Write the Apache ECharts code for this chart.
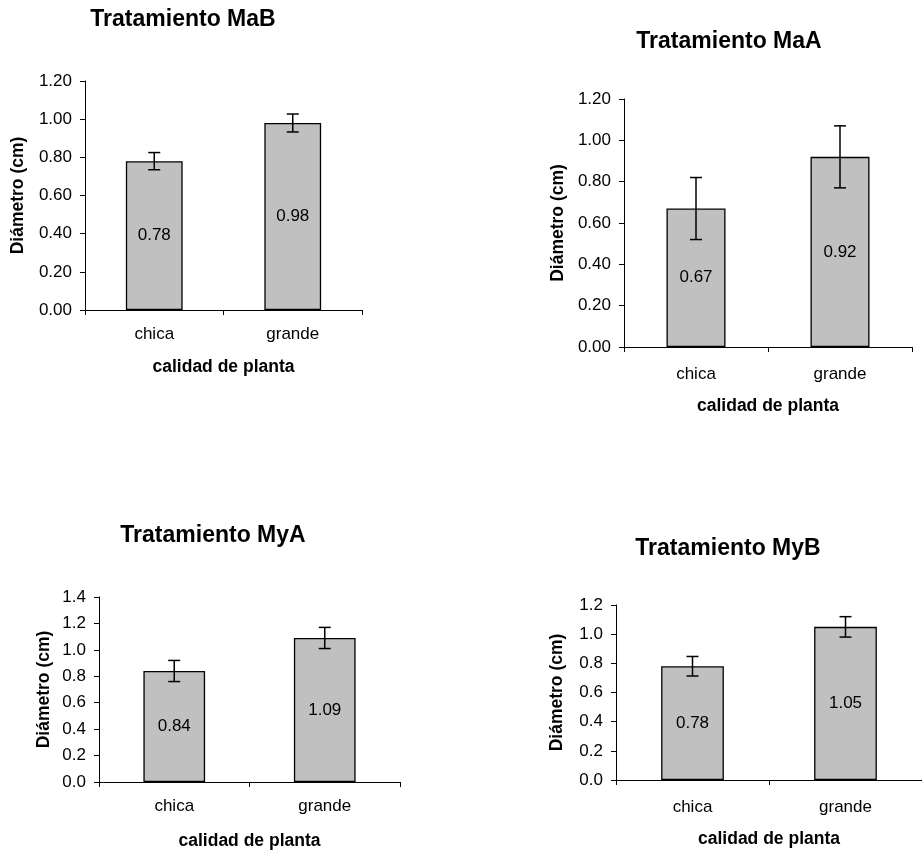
<!DOCTYPE html>
<html>
<head>
<meta charset="utf-8">
<script src="https://cdn.jsdelivr.net/npm/echarts@6/dist/echarts.min.js"></script>
<style>
html,body{margin:0;padding:0;background:#fff;}
#chart{width:922px;height:854px;}
</style>
</head>
<body>
<div id="chart"></div>
<script>
// ---- data ----
var categories = ['chica', 'grande'];
var panelTitles = ['Tratamiento MaB', 'Tratamiento MaA', 'Tratamiento MyA', 'Tratamiento MyB'];
var yAxisName = 'Diámetro (cm)';
var xAxisName = 'calidad de planta';

var maBValues = [0.78, 0.98];
var maBErrors = [0.045, 0.047];
var maAValues = [0.67, 0.92];
var maAErrors = [0.15, 0.15];
var myAValues = [0.84, 1.09];
var myAErrors = [0.08, 0.08];
var myBValues = [0.78, 1.05];
var myBErrors = [0.067, 0.07];

var yMax = [1.2, 1.2, 1.4, 1.2];
var yDecimals = [2, 2, 1, 1];

// ---- layout / styles ----
var FONT = '"Liberation Sans", Arial, sans-serif';
var panels = [
  {values: maBValues, errors: maBErrors, grid: {left: 85, top: 81, width: 277, height: 229}, titleX: 183, titleY: 8, yGap: 58, xGap: 48, labelMargin: 16},
  {values: maAValues, errors: maAErrors, grid: {left: 624, top: 99, width: 288, height: 248}, titleX: 729, titleY: 30, yGap: 57, xGap: 50, labelMargin: 19},
  {values: myAValues, errors: myAErrors, grid: {left: 99, top: 597, width: 301, height: 185}, titleX: 213, titleY: 524, yGap: 46, xGap: 50, labelMargin: 16},
  {values: myBValues, errors: myBErrors, grid: {left: 616, top: 605, width: 312, height: 175}, titleX: 728, titleY: 537, yGap: 50, xGap: 50, labelMargin: 19}
];

var option = {
  animation: false,
  backgroundColor: '#ffffff',
  title: [], grid: [], xAxis: [], yAxis: [], series: []
};

function errorRender(params, api) {
  var x = api.value(0), v = api.value(1), e = api.value(2);
  var top = api.coord([x, v + e]);
  var bot = api.coord([x, v - e]);
  var hw = 6;
  var style = {stroke: '#000', lineWidth: 1.5};
  return {
    type: 'group',
    children: [
      {type: 'line', shape: {x1: top[0], y1: top[1], x2: bot[0], y2: bot[1]}, style: style},
      {type: 'line', shape: {x1: top[0] - hw, y1: top[1], x2: top[0] + hw, y2: top[1]}, style: style},
      {type: 'line', shape: {x1: bot[0] - hw, y1: bot[1], x2: bot[0] + hw, y2: bot[1]}, style: style}
    ]
  };
}

panels.forEach(function (p, i) {
  option.title.push({
    text: panelTitles[i],
    left: p.titleX, top: p.titleY, textAlign: 'center', padding: 0,
    textStyle: {fontFamily: FONT, fontSize: 23, fontWeight: 'bold', color: '#000'}
  });
  option.grid.push(Object.assign({containLabel: false}, p.grid));
  option.xAxis.push({
    type: 'category', gridIndex: i, data: categories,
    name: xAxisName, nameLocation: 'middle', nameGap: p.xGap,
    nameTextStyle: {fontFamily: FONT, fontSize: 17.5, fontWeight: 'bold', color: '#000', verticalAlign: 'top'},
    axisLine: {lineStyle: {color: '#000', width: 1}},
    axisTick: {show: true, length: 5, alignWithLabel: false, lineStyle: {color: '#000'}},
    axisLabel: {fontFamily: FONT, fontSize: 17, color: '#000', margin: p.labelMargin},
    splitLine: {show: false}
  });
  var dec = yDecimals[i];
  option.yAxis.push({
    type: 'value', gridIndex: i, min: 0, max: yMax[i], interval: 0.2,
    name: yAxisName, nameLocation: 'middle', nameGap: p.yGap,
    nameTextStyle: {fontFamily: FONT, fontSize: 17.5, fontWeight: 'bold', color: '#000'},
    axisLine: {show: true, lineStyle: {color: '#000', width: 1}},
    axisTick: {show: true, length: 5, lineStyle: {color: '#000'}},
    axisLabel: {fontFamily: FONT, fontSize: 17, color: '#000', margin: 13,
      formatter: function (v) { return v.toFixed(dec); }},
    splitLine: {show: false}
  });
  option.series.push({
    type: 'bar', xAxisIndex: i, yAxisIndex: i, data: p.values, barWidth: '41%',
    itemStyle: {color: '#c0c0c0', borderColor: '#000', borderWidth: 1.3},
    label: {show: true, position: 'inside', fontFamily: FONT, fontSize: 17, color: '#000',
      formatter: function (d) { return d.value.toFixed(2); }}
  });
  option.series.push({
    type: 'custom', xAxisIndex: i, yAxisIndex: i, z: 5,
    renderItem: errorRender,
    encode: {x: 0, y: 1},
    data: p.values.map(function (v, k) { return [k, v, p.errors[k]]; })
  });
});

var chart = echarts.init(document.getElementById('chart'), null, {renderer: 'canvas'});
chart.setOption(option);
</script>
</body>
</html>
